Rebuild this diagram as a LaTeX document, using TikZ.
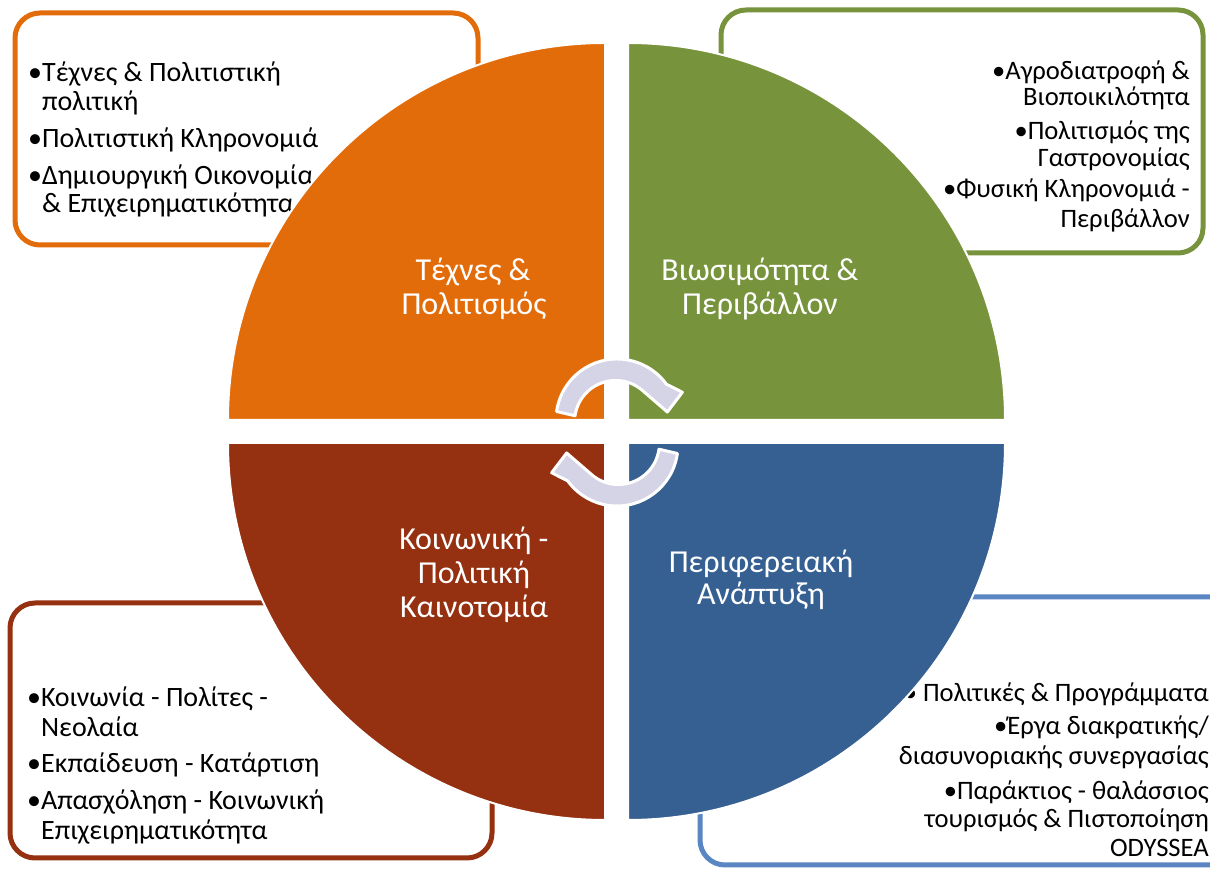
\documentclass[tikz,border=0pt]{standalone}
\usepackage{fontspec}
\setmainfont{Carlito}
\definecolor{cOrange}{HTML}{E36C0A}
\definecolor{cGreen}{HTML}{77933C}
\definecolor{cRed}{HTML}{953010}
\definecolor{cBlue}{HTML}{366092}
\definecolor{cBlueLine}{HTML}{5A86C4}
\definecolor{cArrow}{HTML}{D5D4E6}
\begin{document}
\begin{tikzpicture}[x=1pt,y=1pt,
  boxline/.style={line width=5pt, rounded corners=25pt},
  quad/.style={draw=white, line width=2pt},
  itemtxt/.style={inner sep=0pt, text=black},
  itemL/.style={itemtxt, anchor=base west, font=\fontsize{28}{30}\selectfont},
  itemR/.style={itemtxt, anchor=base east, font=\fontsize{26.6}{30}\selectfont},
  lbl/.style={inner sep=0pt, anchor=base, text=white, font=\fontsize{32}{34}\selectfont},
  cycarrow/.style={fill=cArrow, draw=white, line width=3pt, line join=round}]
\useasboundingbox (0,0) rectangle (1210,891);
% boxes
\draw[boxline, cOrange] (15,878) rectangle (478,646);
\draw[boxline, cGreen] (721,881) rectangle (1203,638);
\draw[boxline, cRed] (10,288) rectangle (492,33);
\draw[boxline, cBlueLine] (700,294) rectangle (1245,26);
% orange box text
\node[itemL] (o1) at (28,809) {•Τέχνες \& Πολιτιστική};
\node[itemL] (o2) at (28,780) {\phantom{•}πολιτική};
\node[itemL] (o3) at (28,743) {•Πολιτιστική Κληρονομιά};
\node[itemL] (o4) at (28,706) {•Δημιουργική Οικονομία};
\node[itemL] (o5) at (28,678) {\phantom{•}\& Επιχειρηματικότητα};
% green box text
\node[itemR] (g1) at (1190,811) {•Αγροδιατροφή \&};
\node[itemR] (g2) at (1190,785) {Βιοποικιλότητα};
\node[itemR] (g3) at (1190,751) {•Πολιτισμός της};
\node[itemR] (g4) at (1190,724) {Γαστρονομίας};
\node[itemR] (g5) at (1190,693) {•Φυσική Κληρονομιά -};
\node[itemR] (g6) at (1190,663) {Περιβάλλον};
% red box text
\node[itemL] (r1) at (27,184) {•Κοινωνία - Πολίτες -};
\node[itemL] (r2) at (27,154) {\phantom{•}Νεολαία};
\node[itemL] (r3) at (27,118) {•Εκπαίδευση - Κατάρτιση};
\node[itemL] (r4) at (27,81) {•Απασχόληση - Κοινωνική};
\node[itemL] (r5) at (27,51) {\phantom{•}Επιχειρηματικότητα};
% blue box text
\node[itemR] (b1) at (1209,189) {• Πολιτικές \& Προγράμματα};
\node[itemR] (b2) at (1209,156) {•Έργα διακρατικής/};
\node[itemR] (b3) at (1209,126) {διασυνοριακής συνεργασίας};
\node[itemR] (b4) at (1209,91) {•Παράκτιος - θαλάσσιος};
\node[itemR] (b5) at (1209,63) {τουρισμός \& Πιστοποίηση};
\node[itemR] (b6) at (1209,34) {ODYSSEA};
% quadrants
\filldraw[quad, fill=cOrange] (605,471) -- (228,471) arc (180:90:377pt) -- cycle;
\filldraw[quad, fill=cGreen] (628,471) -- (628,848) arc (90:0:377pt) -- cycle;
\filldraw[quad, fill=cRed] (605,448) -- (228,448) arc (180:270:377pt) -- cycle;
\filldraw[quad, fill=cBlue] (628,448) -- (628,71) arc (270:360:377pt) -- cycle;
% labels
\node[lbl] (l1a) at (473,610) {Τέχνες \&};
\node[lbl] (l1b) at (474,576) {Πολιτισμός};
\node[lbl] (l2a) at (760,610) {Βιωσιμότητα \&};
\node[lbl] (l2b) at (760,576) {Περιβάλλον};
\node[lbl] (l3a) at (474,341) {Κοινωνική -};
\node[lbl] (l3b) at (474,307) {Πολιτική};
\node[lbl] (l3c) at (474,273) {Καινοτομία};
\node[lbl] (l4a) at (761,318) {Περιφερειακή};
\node[lbl] (l4b) at (761,286) {Ανάπτυξη};
% cycle arrows
\begin{scope}[shift={(617pt,471pt)}]
\filldraw[cycarrow] (172:61pt) arc (172:36:61pt) -- (23:71pt) -- (9:51pt) -- (47:39pt) arc (47:172:41pt) -- cycle;
\end{scope}
\begin{scope}[shift={(617pt,446pt)}, rotate=180]
\filldraw[cycarrow] (172:61pt) arc (172:36:61pt) -- (23:71pt) -- (9:51pt) -- (47:39pt) arc (47:172:41pt) -- cycle;
\end{scope}
\end{tikzpicture}
\end{document}
